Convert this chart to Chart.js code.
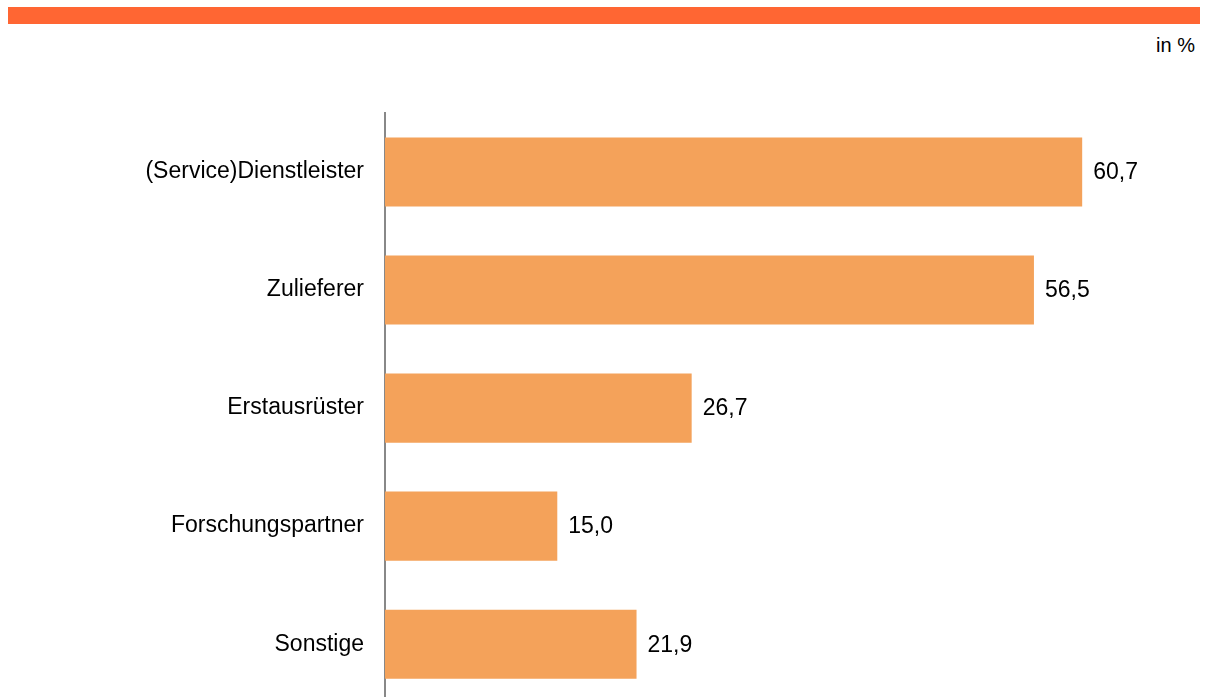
<!DOCTYPE html>
<html>
<head>
<meta charset="utf-8">
<script src="https://cdn.jsdelivr.net/npm/chart.js@4"></script>
<style>
  html,body{margin:0;padding:0;background:#fff;overflow:hidden;width:1208px;height:697px;}
  #topbar{position:absolute;left:8px;top:7px;width:1192px;height:17px;background:#FF6633;}
  #unit{position:absolute;right:13px;top:34px;font:20px Arial,"Liberation Sans",sans-serif;color:#000;}
  #graph{position:absolute;left:0;top:0;}
</style>
</head>
<body>
<div id="topbar"></div>
<div id="unit">in %</div>
<canvas id="graph" width="1208" height="738"></canvas>
<script>
const categories = ['(Service)Dienstleister','Zulieferer','Erstausrüster','Forschungspartner','Sonstige']
const values = [60.7, 56.5, 26.7, 15.0, 21.9]

// value text right of each bar, German decimal comma
const valueLabels = {
    id:'valueLabels',
    afterDatasetsDraw(chart){
        const ctx = chart.ctx
        const meta = chart.getDatasetMeta(0)
        ctx.save()
        ctx.font = '23px Arial, "Liberation Sans", sans-serif'
        ctx.fillStyle = '#000'
        ctx.textAlign = 'left'
        ctx.textBaseline = 'middle'
        meta.data.forEach((bar,i)=>{
            ctx.fillText(values[i].toFixed(1).replace('.',','), bar.x+11, bar.y+1)
        })
        ctx.restore()
    }
}

new Chart('graph',{
    type:'bar',
    data:{
        labels:categories,
        datasets:[{
            data:values,
            backgroundColor:'#F4A25A',
            borderWidth:0,
            categoryPercentage:1,
            barPercentage:0.585
        }]
    },
    options:{
        indexAxis:'y',
        responsive:false,
        animation:false,
        layout:{padding:{top:113,left:0,right:19,bottom:0}},
        plugins:{legend:{display:false},tooltip:{enabled:false}},
        scales:{
            x:{display:false,min:0,max:70},
            y:{
                grid:{display:false,drawTicks:false},
                border:{display:true,color:'#888',width:2},
                ticks:{color:'#000',padding:21,font:{family:'Arial, "Liberation Sans", sans-serif',size:23}},
                afterFit(scale){scale.width=385}
            }
        }
    },
    plugins:[valueLabels]
})
</script>
</body>
</html>
